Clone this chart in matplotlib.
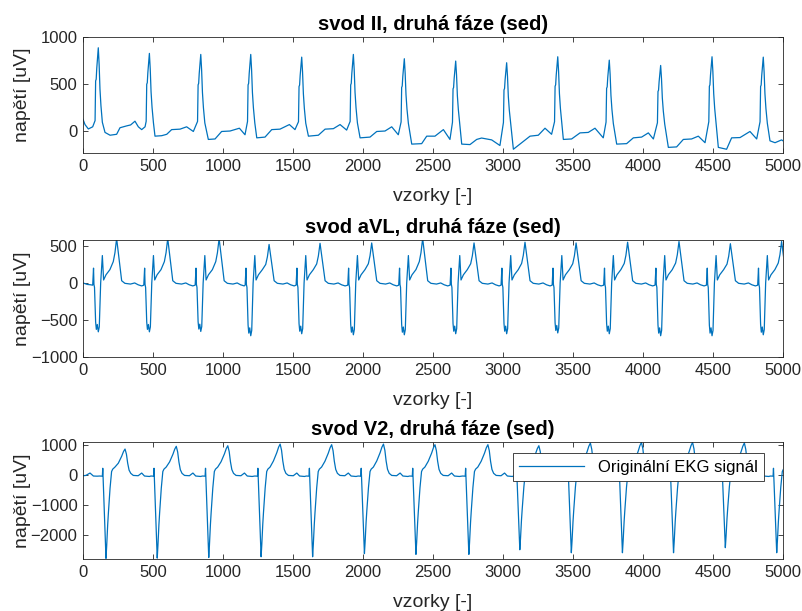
"""
Plots three ECG leads (II, aVL, V2) recorded in the second phase (sitting).
Each trace is rebuilt from beat times, per-beat wave amplitudes and a beat shape.
"""

import matplotlib.pyplot as plt

plt.rcParams['font.family'] = ['Liberation Sans', 'DejaVu Sans']

LINE_COLOR = '#0072BD'
AX_COLOR = '#262626'
N_SAMPLES = 5000

# R wave positions [samples] for leads II and aVL (same time base).
R_TIMES = [109, 474, 841, 1198, 1562, 1931, 2295, 2662, 3026, 3391, 3759, 4126, 4493, 4859]
# QS trough positions [samples] for lead V2.
V2_TIMES = [164, 530, 898, 1272, 1640, 2010, 2378, 2756, 3120, 3488, 3853, 4218, 4588, 4955]

# Lead II: R peak heights [uV].
II_R = [885, 825, 814, 814, 785, 814, 768, 743, 725, 789, 753, 696, 789, 785]
# Lead II: QRS around the R peak, offset [samples] and fraction of the R height.
II_QRS_DT = [-23, -19, -15, -11, 0, 6, 12, 19, 29]
II_QRS_FRAC = [0.12, 0.6, 0.62, 0.75, 1.0, 0.8, 0.5, 0.3, 0.1]
# Lead II: baseline between the QRS complexes (wander, T and P waves).
II_BASE_X = [0, 14, 38, 69,
             157, 193, 240, 264, 312, 340, 371, 395, 419, 443,
             514, 562, 598, 633, 693, 740, 788,
             895, 943, 990, 1050, 1117, 1157,
             1241, 1300, 1348, 1407, 1474, 1514,
             1610, 1681, 1729, 1788, 1836, 1883,
             1979, 2050, 2098, 2157, 2205, 2252,
             2348, 2419, 2455, 2514, 2574, 2621,
             2705, 2764, 2812, 2847, 2919, 2978,
             3074, 3121, 3193, 3252, 3300, 3347,
             3431, 3490, 3550, 3609, 3657, 3716,
             3812, 3883, 3931, 3990, 4038, 4074,
             4181, 4240, 4288, 4347, 4395, 4443,
             4538, 4597, 4633, 4693, 4764, 4812,
             4907, 4943, 4990, 5000]
II_BASE_Y = [120, 64, 17, 40,
             -20, -50, -40, 30, 50, 60, 100, 40, 10, 40,
             -60, -55, -40, 10, 15, 40, -10,
             -95, -90, -10, -5, 25, -45,
             -78, -70, 10, 15, 64, 10,
             -60, -50, 15, 20, 64, 5,
             -78, -70, -10, -5, 40, -45,
             -145, -140, -60, -60, 10, -95,
             -145, -150, -95, -80, -100, -160,
             -200, -145, -60, -50, 25, -40,
             -95, -90, -25, -20, 25, -78,
             -145, -140, -78, -70, -25, -90,
             -180, -175, -95, -90, -60, -130,
             -180, -200, -78, -75, -10, -90,
             -110, -130, -100, -110]

# Lead aVL: QS trough depth and T wave height per beat [uV].
AVL_TROUGH = [-660, -660, -655, -713, -686, -700, -700, -686, -686, -675, -686, -713, -713, -700]
AVL_T = [600, 600, 600, 520, 535, 540, 600, 540, 550, 540, 550, 560, 530, 560]
# Lead aVL beat shape: offset from R, fixed part, trough fraction, T fraction.
AVL_DT = [-40, -34, -31, -27, -19, -14, -7, 0, 7, 17, 29, 38, 55, 83, 107, 119, 131, 150, 167,
          190, 230, 260, 285, 310]
AVL_C = [-30, 200, -20, -60, 0, 0, 0, 0, 0, 0, 370, 40, 110, 180, 0, 0, 0, 0, 30,
         -5, -15, 0, -25, -40]
AVL_Q = [0, 0, 0, 0, 0.8, 0.95, 0.85, 1.0, 0.9, 0, 0, 0, 0, 0, 0, 0, 0, 0, 0,
         0, 0, 0, 0, 0]
AVL_W = [0, 0, 0, 0, 0, 0, 0, 0, 0, 0, 0, 0, 0, 0, 0.48, 0.68, 1.0, 0.5, 0,
         0, 0, 0, 0, 0]
AVL_START_X = [0, 30, 55]
AVL_START_Y = [0, -20, -25]

# Lead V2: QS trough depth and T wave height per beat [uV].
V2_TROUGH = [-2800, -2790, -2770, -2745, -2745, -2640, -2665, -2665, -2510, -2610, -2610, -2610,
             -2440, -2610]
V2_T = [865, 955, 975, 1030, 1010, 1030, 1010, 1010, 975, 1065, 1088, 1088, 1066, 1066]
# Lead V2 beat shape: offset from the trough, fixed part, trough fraction, T fraction.
V2_DT = [-45, -26, -23, -8, 0, 5, 12, 17, 29, 40, 48, 64, 88, 112, 125, 136, 146, 155, 165,
         177, 195, 230, 255, 275, 310]
V2_C = [-40, -45, 220, 0, 0, 0, 0, 0, 0, 110, 190, 260, 0, 0, 0, 0, 0, 0, 0,
        50, -20, -30, 60, -40, -55]
V2_Q = [0, 0, 0, 0.63, 1.0, 0.85, 0.6, 0.46, 0.16, 0, 0, 0, 0, 0, 0, 0, 0, 0, 0,
        0, 0, 0, 0, 0, 0]
V2_W = [0, 0, 0, 0, 0, 0, 0, 0, 0, 0, 0, 0, 0.45, 0.72, 0.9, 1.0, 0.8, 0.45, 0.18,
        0, 0, 0, 0, 0, 0]
V2_START_X = [0, 20, 50, 74, 100]
V2_START_Y = [-30, -20, 60, -40, -45]


def lead_ii_trace():
    """ Lead II: baseline points merged with the QRS complexes. """
    pts = list(zip(II_BASE_X, II_BASE_Y))
    for t, r in zip(R_TIMES, II_R):
        pts += [(t + d, f * r) for d, f in zip(II_QRS_DT, II_QRS_FRAC)]
    pts.sort()
    return [p[0] for p in pts], [p[1] for p in pts]


def beat_trace(times, depth, height, dt, c, q, w, start_x, start_y):
    """ Places one beat shape per beat time, scaled by that beat's trough depth and T height. """
    xs, ys = list(start_x), list(start_y)
    for t, d, h in zip(times, depth, height):
        for k in range(len(dt)):
            xs.append(t + dt[k])
            ys.append(c[k] + q[k] * d + w[k] * h)
    return xs, ys


def style_axes(ax, title, ylim, yticks):
    """ MATLAB-like box, inward ticks and labels. """
    ax.set_xlim(0, N_SAMPLES)
    ax.set_ylim(ylim)
    ax.set_xticks(range(0, N_SAMPLES + 1, 500))
    ax.set_yticks(yticks)
    ax.tick_params(direction='in', top=True, right=True, length=3.5, width=0.6,
                   colors=AX_COLOR, labelsize=12, pad=4)
    for s in ax.spines.values():
        s.set_color(AX_COLOR)
        s.set_linewidth(0.6)
    ax.set_title(title, fontsize=14.5, fontweight='bold', pad=5, color='black')
    ax.set_xlabel('vzorky [-]', fontsize=14, color=AX_COLOR)
    ax.set_ylabel('napětí [uV]', fontsize=14, color=AX_COLOR)
    ax.xaxis.set_label_coords(0.5, -0.30)
    ax.yaxis.set_label_coords(-0.075, 0.5)


fig = plt.figure(figsize=(8.03, 6.11), dpi=100)
ax1 = fig.add_axes([0.1034, 0.7496, 0.8717, 0.1898])
ax2 = fig.add_axes([0.1034, 0.4157, 0.8717, 0.1915])
ax3 = fig.add_axes([0.1034, 0.0851, 0.8717, 0.1915])

x, y = lead_ii_trace()
ax1.plot(x, y, color=LINE_COLOR, lw=0.9)
style_axes(ax1, 'svod II, druhá fáze (sed)', (-240, 1000), [0, 500, 1000])

x, y = beat_trace(R_TIMES, AVL_TROUGH, AVL_T, AVL_DT, AVL_C, AVL_Q, AVL_W, AVL_START_X, AVL_START_Y)
ax2.plot(x, y, color=LINE_COLOR, lw=0.9)
style_axes(ax2, 'svod aVL, druhá fáze (sed)', (-1000, 580), [-1000, -500, 0, 500])

x, y = beat_trace(V2_TIMES, V2_TROUGH, V2_T, V2_DT, V2_C, V2_Q, V2_W, V2_START_X, V2_START_Y)
ax3.plot(x, y, color=LINE_COLOR, lw=0.9, label='Originální EKG signál')
style_axes(ax3, 'svod V2, druhá fáze (sed)', (-2820, 1100), [-2000, -1000, 0, 1000])

leg = ax3.legend(loc='upper right', bbox_to_anchor=(0.973, 0.906), borderaxespad=0,
                 fontsize=12, handlelength=3.9, fancybox=False, framealpha=1)
leg.get_frame().set_edgecolor(AX_COLOR)
leg.get_frame().set_linewidth(0.6)

fig.savefig('out.png', dpi=100)
